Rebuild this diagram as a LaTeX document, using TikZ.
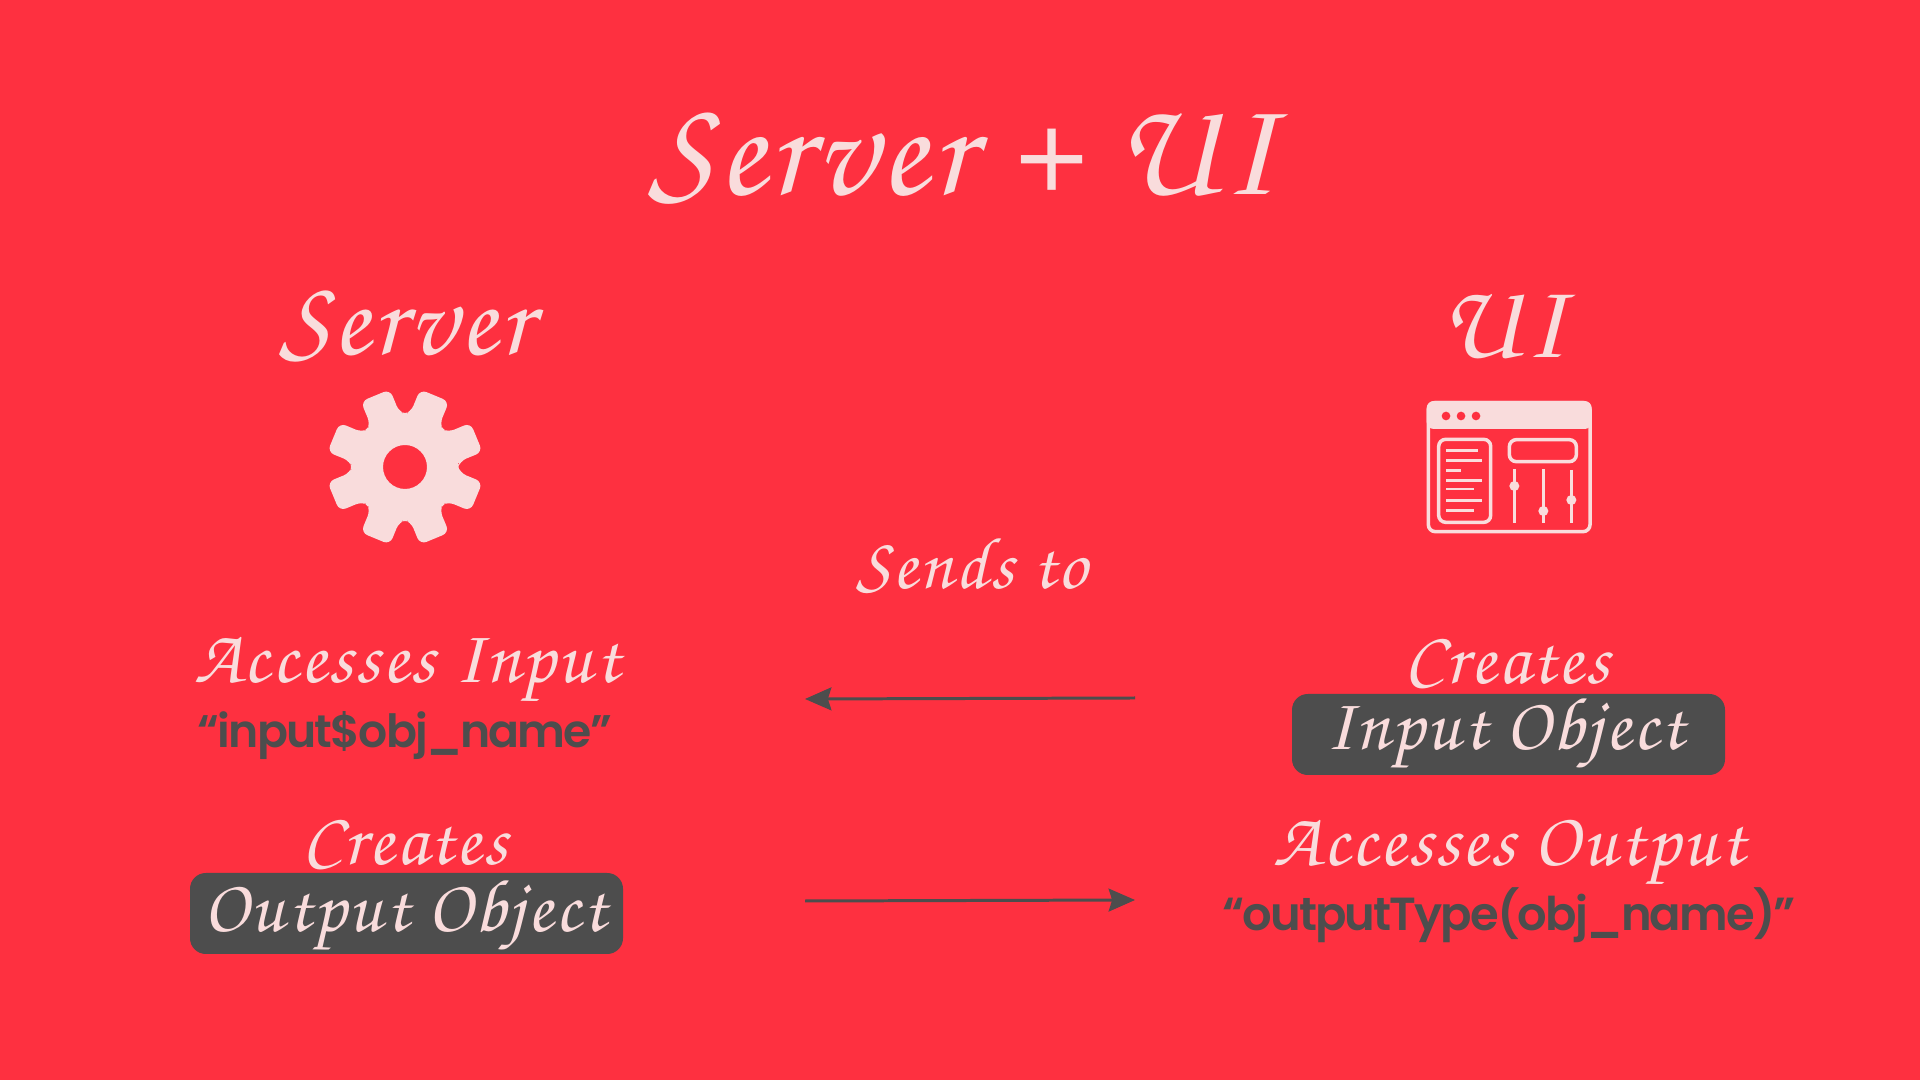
\documentclass[tikz,border=0pt]{standalone}
\usepackage{fontspec}
\setmainfont{TeX Gyre Chorus}[LetterSpace=3]
\newfontfamily\codefont{Poppins SemiBold}[LetterSpace=-4]
\usetikzlibrary{arrows.meta}
\definecolor{bgred}{HTML}{FE3040}
\definecolor{pale}{HTML}{F9DCDC}
\definecolor{slate}{HTML}{4D4D4D}
\tikzset{
	script/.style={text=pale, inner sep=0pt, font=\fontsize{#1}{#1}\selectfont},
	code/.style={text=slate, inner sep=0pt, font=\codefont\fontsize{#1}{#1}\selectfont},
	flow/.style={draw=slate, line width=0.85pt, -{Stealth[length=7.5pt, width=6.5pt, inset=1pt]}},
	pill/.style={fill=slate, rounded corners=4.5pt, inner sep=0pt}
}

\begin{document}
\begin{tikzpicture}
	%%%%% START %%%%%
	\useasboundingbox[fill=bgred] (0, 0) rectangle (19.2, 10.8);

	\node[script=39.6] (title) at (9.62, 9.21) {Server + UI};
	\node[script=30.9] (server) at (4.06, 7.53) {Server};
	\node[script=30.9] (ui) at (15.03, 7.53) {UI};
	\node[script=20.9] (sends) at (9.72, 5.14) {Sends to};

	%%%%% gear %%%%%
	\begin{scope}[shift={(4.05, 6.13)}]
		\fill[pale, even odd rule, rounded corners=2pt]
			(0:0.53) \foreach \a in {22.5, 67.5, ..., 337.5} {
				-- (\a-16.5:0.55) -- (\a-11.5:0.79) -- (\a+11.5:0.79) -- (\a+16.5:0.55) -- (\a+22.5:0.53)
			} -- cycle
			(0, 0) circle (0.22);
	\end{scope}

	%%%%% window icon %%%%%
	\begin{scope}[shift={(14, 6.95)}, x=0.033333mm, y=-0.033333mm]
		\draw[pale, line width=1pt, rounded corners=2pt] (85, 53) rectangle (570, 440);
		\fill[pale, rounded corners=2pt] (80, 132) |- (575, 48) -- (575, 132) -- cycle;
		\foreach \x in {138, 183, 228}
			\fill[bgred] (\x, 93) circle (13);
		\draw[pale, line width=1pt, rounded corners=2pt] (116, 163) rectangle (272, 412);
		\draw[pale, line width=1pt, rounded corners=2pt] (328, 164) rectangle (529, 230);
		\foreach \y/\e in {197/233, 226/246, 256/183, 286/246, 312/223, 346/246, 376/223}
			\draw[pale, line width=0.85pt] (138, \y) -- (\e, \y);
		\foreach \x/\t/\k in {343/253/303, 430/252/378, 514/255/345} {
			\draw[pale, line width=0.85pt] (\x, \t) -- (\x, 413);
			\fill[pale] (\x, \k) circle (15);
		}
	\end{scope}

	%%%%% left column %%%%%
	\node[script=21.8] (accin) at (4.07, 4.11) {Accesses Input};
	\node[code=13.0] (inobj) at (4.05, 3.44) {“input\$obj\_name”};
	\node[script=21.3] (crleft) at (4.05, 2.35) {Creates};
	\node[pill, minimum width=4.33cm, minimum height=0.81cm] (outbox) at (4.065, 1.665) {};
	\node[script=21.3] (outtxt) at (4.05, 1.65) {Output Object};

	%%%%% right column %%%%%
	\node[script=21.3] (crright) at (15.07, 4.16) {Creates};
	\node[pill, minimum width=4.33cm, minimum height=0.81cm] (inbox) at (15.085, 3.455) {};
	\node[script=21.3] (intxt) at (15.05, 3.47) {Input Object};
	\node[script=21.8] (accout) at (15.09, 2.28) {Accesses Output};
	\node[code=13.2] (outtype) at (15.09, 1.65) {“outputType(obj\_name)”};

	%%%%% arrows %%%%%
	\coordinate (inR) at (11.35, 3.82);
	\coordinate (inL) at (8.05, 3.81);
	\coordinate (outL) at (8.05, 1.79);
	\coordinate (outR) at (11.35, 1.80);
	\draw[flow] (inR) -- (inL);
	\draw[flow] (outL) -- (outR);
	%%%%% END %%%%%
\end{tikzpicture}
\end{document}
